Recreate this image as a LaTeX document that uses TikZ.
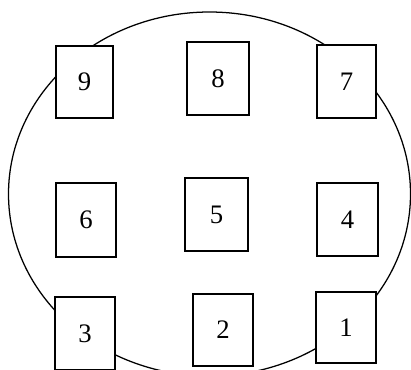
\documentclass[tikz,border=0pt]{standalone}
\usepackage{fontspec}
\setmainfont{Liberation Serif}
\usepackage{tikz}
\usetikzlibrary{positioning}

\tikzset{
  cell/.style={draw, fill=white, line width=0.9pt, inner sep=0pt,
    minimum width=1.5cm, minimum height=1.83cm,
    font=\fontsize{19}{22}\selectfont}
}

\begin{document}
\begin{tikzpicture}[x=0.025cm, y=-0.025cm]
  \useasboundingbox (0,0) rectangle (411,369);
  \clip (0,0) rectangle (411,369);
  % Outline
  \draw[line width=0.9pt] (209.5,194) ellipse [x radius=201, y radius=182];
  % Top row
  \node[cell, minimum width=1.43cm, minimum height=1.8cm] (c9) at (84.5,82) {9};
  \node[cell, minimum width=1.55cm] (c8) at (218,78.5) {8};
  \node[cell, minimum width=1.48cm] (c7) at (346.5,81.5) {7};
  % Middle row
  \node[cell, minimum height=1.85cm] (c6) at (86,220) {6};
  \node[cell, minimum width=1.58cm] (c5) at (216.5,214.5) {5};
  \node[cell, minimum width=1.53cm] (c4) at (347.5,219.5) {4};
  % Bottom row
  \node[cell, minimum width=1.5cm] (c3) at (85,333.5) {3};
  \node[cell, minimum height=1.8cm] (c2) at (223,330) {2};
  \node[cell, minimum width=1.5cm, minimum height=1.78cm] (c1) at (346,327.5) {1};
\end{tikzpicture}
\end{document}
